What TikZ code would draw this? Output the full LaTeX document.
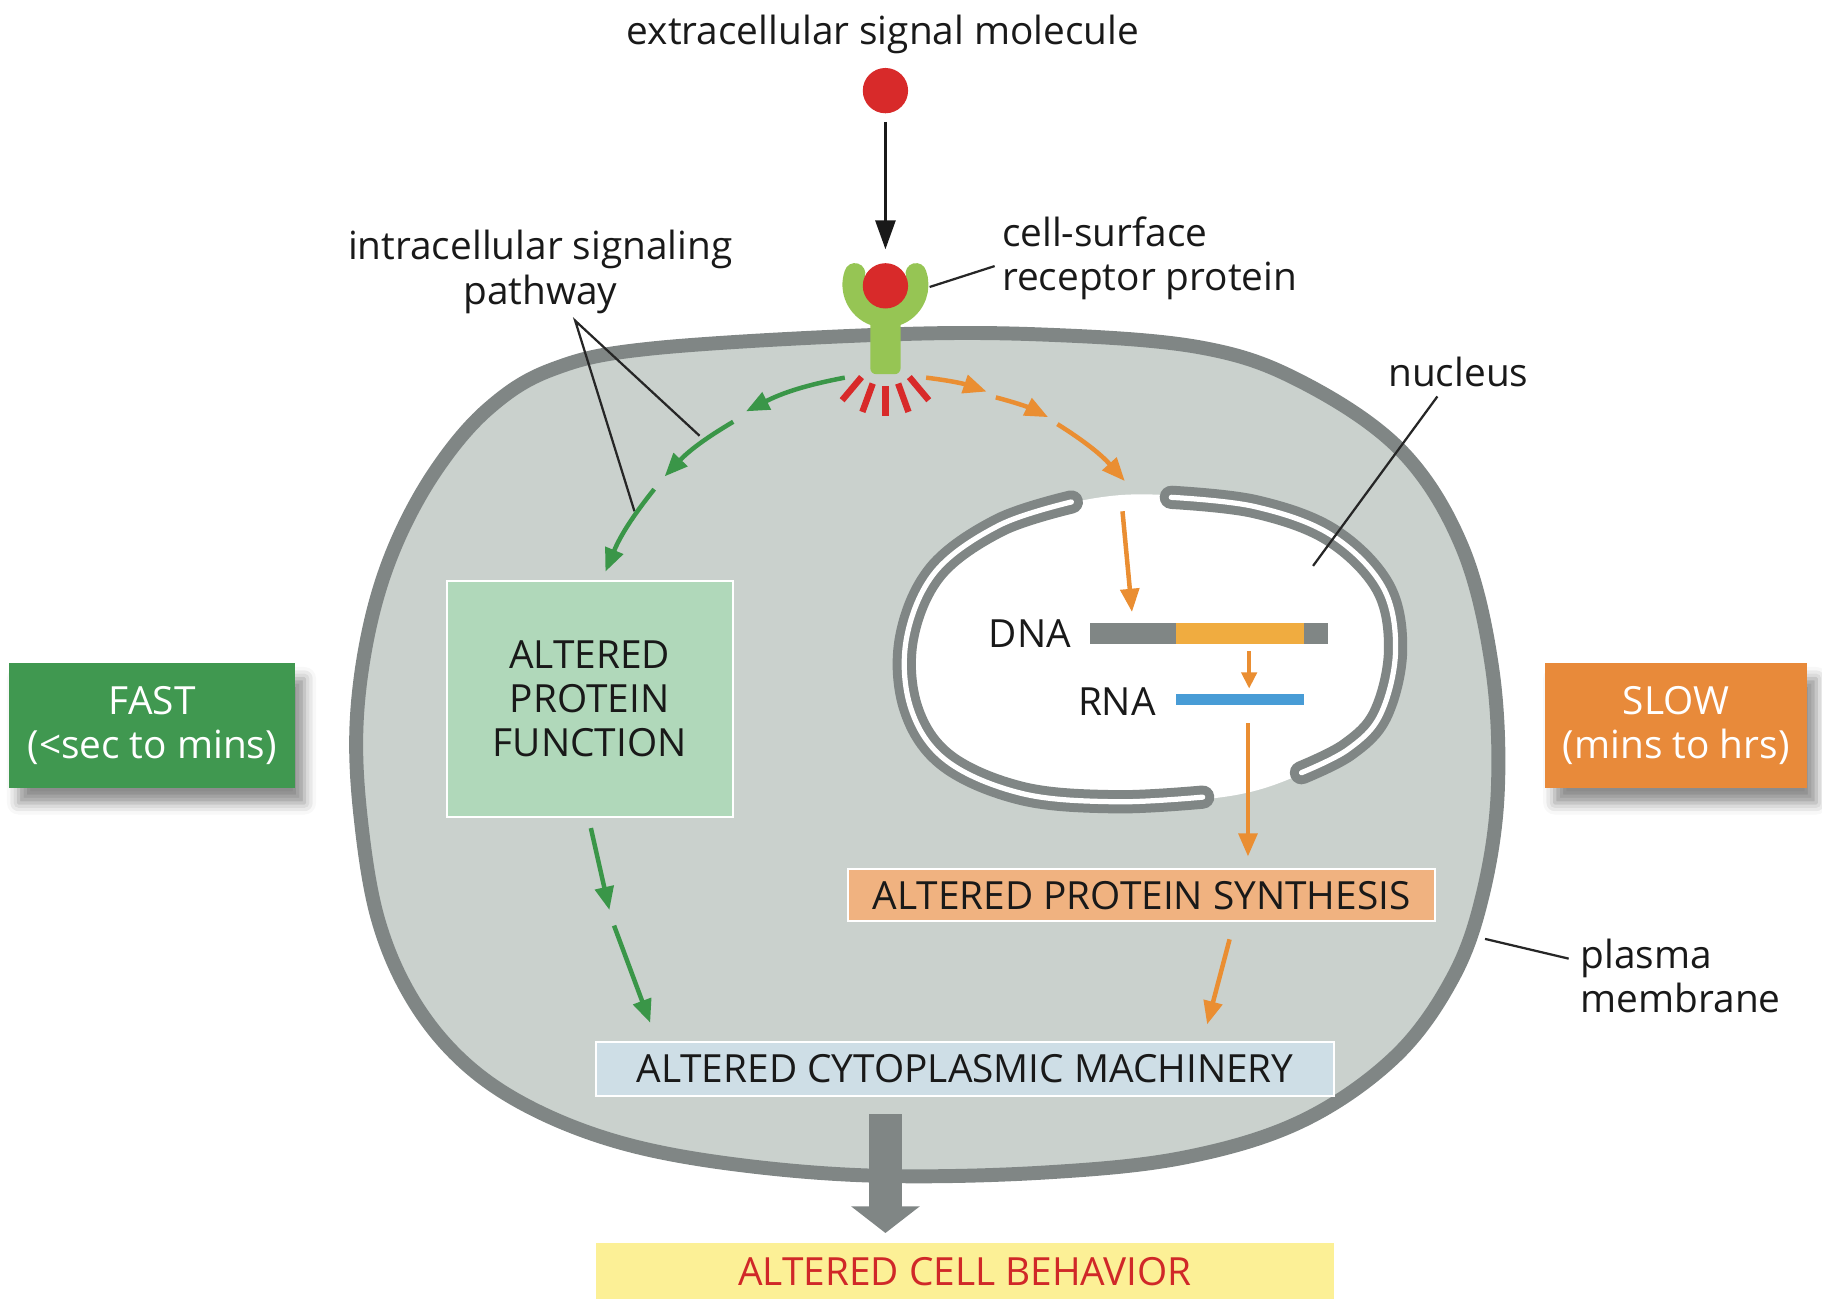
\documentclass[tikz,border=0pt]{standalone}
\usepackage{fontspec}
\setmainfont{Open Sans}
\usepackage{tikz}
\usetikzlibrary{arrows.meta, positioning, shadows, shadows.blur}
\definecolor{membranegray}{RGB}{128,134,133}
\definecolor{cytogray}{RGB}{202,209,205}
\definecolor{receptorgreen}{RGB}{150,197,84}
\definecolor{signalred}{RGB}{216,42,42}
\definecolor{pathgreen}{RGB}{58,150,72}
\definecolor{pathorange}{RGB}{234,142,50}
\definecolor{geneorange}{RGB}{240,172,64}
\definecolor{rnablue}{RGB}{72,156,214}
\definecolor{funccolor}{RGB}{176,216,186}
\definecolor{synthcolor}{RGB}{240,178,128}
\definecolor{machcolor}{RGB}{206,222,230}
\definecolor{behavcolor}{RGB}{252,240,150}
\definecolor{behavtext}{RGB}{208,40,40}
\definecolor{fastcolor}{RGB}{64,152,80}
\definecolor{slowcolor}{RGB}{232,138,58}

\begin{document}
\begin{tikzpicture}[
    x=0.2mm, y=-0.2mm,
    every node/.style={font=\fontsize{19}{21.6}\selectfont, text=black!90},
    note/.style={align=center, inner sep=0pt},
    box/.style={draw=white, line width=1pt, inner sep=0pt, align=center},
    speed/.style={inner sep=0pt, align=center, text=white, minimum height=21.4mm, blur shadow={shadow xshift=1.6mm, shadow yshift=-2.6mm, shadow blur radius=2mm, shadow opacity=45}},
    bar/.style={inner sep=0pt, minimum height=3.6mm},
    ball/.style={circle, fill=signalred, inner sep=0pt, minimum size=7.8mm},
    pointer/.style={line width=1.1pt, black!85},
    fastpath/.style={pathgreen, line width=2.2pt, -{Triangle[length=4mm, width=3.2mm]}},
    slowpath/.style={pathorange, line width=2.2pt, -{Triangle[length=4mm, width=3.2mm]}},
]
    \useasboundingbox (0,0) rectangle (1568,1132);

    % Cell
    \draw[membranegray, fill=cytogray, line width=2.4mm] plot[smooth cycle, tension=0.6] coordinates {
        (760,288) (900,288) (1033,299) (1119,328) (1205,387) (1258,470) (1284,574)
        (1289,680) (1276,770) (1250,842) (1200,910) (1120,965) (1020,996) (900,1009) (760,1012)
        (640,1003) (540,985) (460,955) (400,915) (355,860) (325,790) (310,700) (307,620)
        (318,540) (340,470) (375,405) (420,352) (475,318) (560,300)};

    % Nucleus
    \fill[white] plot[smooth cycle, tension=0.6] coordinates {(965,426) (1080,436) (1145,460) (1190,505)
        (1203,560) (1190,615) (1160,645) (1095,676) (1035,688) (960,690) (880,683) (815,655)
        (782,610) (778,550) (805,492) (860,452)};
    \foreach \w/\c in {4mm/membranegray, 0.9mm/white} {
        \draw[line cap=round, line width=\w, \c] plot[smooth, tension=0.6] coordinates {(922,432) (860,452)
            (805,492) (780,550) (784,610) (815,655) (880,683) (960,690) (1035,686)};
        \draw[line cap=round, line width=\w, \c] plot[smooth, tension=0.6] coordinates {(1008,428) (1080,436)
            (1145,460) (1190,505) (1201,560) (1188,615) (1160,645) (1120,665)};
    }

    % Receptor and signal
    \fill[receptorgreen, rounded corners=1mm] (749,258) rectangle (775,322);
    \draw[receptorgreen, line width=3.6mm, line cap=round] (762,245) ++(200:28) arc[start angle=200, end angle=-20, radius=28];
    \node[ball] (bound) at (762,246) {};
    \foreach \a in {50,70,90,110,130}
        \draw[signalred, line width=1.1mm] (762,300) ++(\a:32) -- ++(\a:26);

    \node[note] (sigtext) at (760,30) {extracellular signal molecule};
    \node[ball] (sig) at (762,78) {};
    \draw[line width=1.7pt, black!90, -{Triangle[length=5mm, width=3.4mm]}, shorten <=1.4mm, shorten >=2.3mm] (sig) -- (bound);

    \node[note, anchor=west, align=left] (rectext) at (862,222) {cell-surface\\receptor protein};
    \coordinate (recarm) at (800,247);
    \draw[pointer] (recarm) -- ([xshift=-1.2mm, yshift=-1.4mm]rectext.west);

    % Pathway labels
    \node[note] (pathway) at (465,234) {intracellular signaling\\pathway};
    \coordinate (pw) at (495,276);
    \coordinate (pwa) at (602,375);
    \coordinate (pwb) at (546,440);
    \draw[pointer] (pwa) -- (pw) -- (pwb);

    % Fast branch
    \coordinate (g0) at (727,325);
    \coordinate (g1) at (642,354);
    \coordinate (g1b) at (631,363);
    \coordinate (g2) at (572,410);
    \coordinate (g2b) at (563,421);
    \coordinate (g3) at (521,492);
    \draw[fastpath] (g0) to[bend right=8] (g1);
    \draw[fastpath] (g1b) to[bend right=8] (g2);
    \draw[fastpath] (g2b) to[bend right=8] (g3);

    % Slow branch
    \coordinate (o0) at (797,325);
    \coordinate (o1) at (849,337);
    \coordinate (o1b) at (857,342);
    \coordinate (o2) at (902,359);
    \coordinate (o2b) at (910,365);
    \coordinate (o3) at (968,414);
    \draw[slowpath] (o0) to[bend left=6] (o1);
    \draw[slowpath] (o1b) to[bend left=6] (o2);
    \draw[slowpath] (o2b) to[bend left=8] (o3);

    % DNA and RNA
    \node[bar, fill=membranegray, minimum width=14.8mm] (dnal) at (975,545) {};
    \node[bar, fill=geneorange, minimum width=22mm] (gene) at (1067,545) {};
    \node[bar, fill=membranegray, minimum width=4.2mm] (dnar) at (1132.5,545) {};
    \node[bar, fill=rnablue, minimum width=22mm, minimum height=2mm] (rna) at (1067,602) {};
    \node[note, anchor=east] (dnatext) at (922,545) {DNA};
    \node[note, anchor=east] (rnatext) at (995,604) {RNA};
    \coordinate (nucin) at (966,440);
    \draw[slowpath, shorten >=1.8mm] (nucin) -- (dnal.north);
    \draw[slowpath, -{Triangle[length=2.8mm, width=2.6mm]}, shorten <=1.2mm, shorten >=0.8mm] ([xshift=1.6mm]gene.south) -- ([xshift=1.6mm]rna.north);

    % Boxes
    \node[box, fill=funccolor, minimum width=49.2mm, minimum height=40.6mm] (func) at (507.5,601.5) {ALTERED\\PROTEIN\\FUNCTION};
    \node[box, fill=synthcolor, minimum width=101mm, minimum height=9mm] (synth) at (982.5,770.5) {ALTERED PROTEIN SYNTHESIS};
    \node[box, fill=machcolor, minimum width=127mm, minimum height=9.2mm] (mach) at (830.5,920) {ALTERED CYTOPLASMIC MACHINERY};
    \node[box, draw=none, fill=behavcolor, text=behavtext, minimum width=127mm, minimum height=9.6mm] (behav) at (830.5,1094) {ALTERED CELL BEHAVIOR};

    \draw[slowpath, shorten <=3mm, shorten >=2mm] ([xshift=1.4mm]rna.south) -- ([xshift=1.4mm]rna.south |- synth.north);
    \draw[slowpath, shorten <=3mm, shorten >=3mm] ([xshift=15.9mm]synth.south) -- ([xshift=40.9mm]mach.north);
    \coordinate (fmid) at (526,790);
    \draw[fastpath, shorten <=1.8mm, shorten >=1.4mm] ([xshift=-0.2mm]func.south) -- (fmid);
    \draw[fastpath, shorten <=1.4mm, shorten >=3.4mm] (fmid) -- ([xshift=-53mm]mach.north);
    \draw[membranegray, line width=5.6mm, -{Triangle[length=4.6mm, width=11.6mm]}, shorten <=3mm, shorten >=1.6mm] ([xshift=-13.7mm]mach.south) -- ([xshift=-13.7mm]behav.north);

    % Speed
    \node[speed, fill=fastcolor, minimum width=49.2mm] (fast) at (131,624.5) {FAST\\(<sec to mins)};
    \node[speed, fill=slowcolor, minimum width=45mm] (slow) at (1442.5,624.5) {SLOW\\(mins to hrs)};

    % Other labels
    \node[note] (nuctext) at (1255,320) {nucleus};
    \coordinate (nucpt) at (1130,487);
    \draw[pointer] ([xshift=-3.6mm, yshift=-1.6mm]nuctext.south) -- (nucpt);
    \node[note, anchor=west, align=left] (pmtext) at (1360,840) {plasma\\membrane};
    \coordinate (pmpt) at (1278,808);
    \draw[pointer] (pmpt) -- ([xshift=-2mm, yshift=3mm]pmtext.west);
\end{tikzpicture}
\end{document}
